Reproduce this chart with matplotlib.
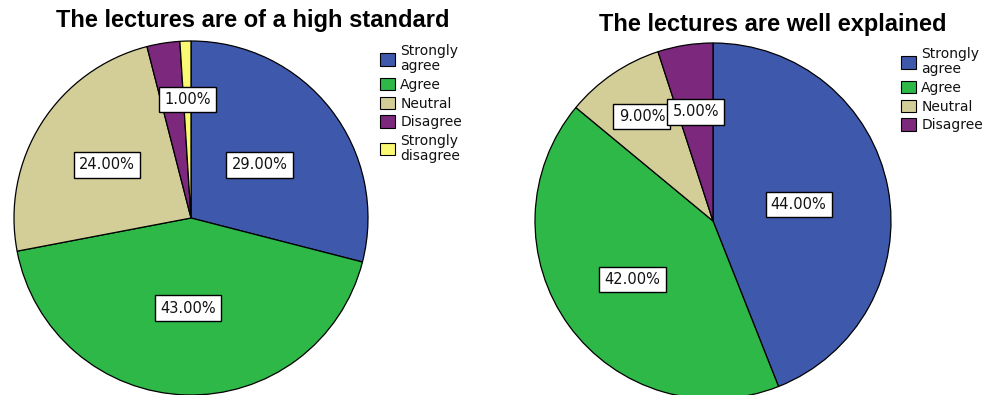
import numpy as np
import matplotlib

matplotlib.use("Agg")
matplotlib.rcParams["font.family"] = ["Liberation Sans", "DejaVu Sans"]

import matplotlib.pyplot as plt
from matplotlib.patches import Patch

# response shares, in percent
left_labels = ["Strongly\nagree", "Agree", "Neutral", "Disagree", "Strongly\ndisagree"]
left_values = [29, 43, 24, 3, 1]
left_shown = [True, True, True, False, True]
left_dist = [0.49, 0.51, 0.56, 0.6, 0.67]

right_labels = ["Strongly\nagree", "Agree", "Neutral", "Disagree"]
right_values = [44, 42, 9, 5]
right_shown = [True, True, True, True]
right_dist = [0.49, 0.56, 0.71, 0.62]

COLORS = ["#3E58AC", "#2EB848", "#D3CE97", "#7C287D", "#FBF873"]

W, H = 985, 395


def px_axes(fig, cx, cy, r):
    # axes whose unit circle lands at pixel centre (cx, cy) with radius r
    return fig.add_axes([(cx - r) / W, (H - cy - r) / H, 2 * r / W, 2 * r / H])


def draw_pie(ax, values, shown, dists, title, title_xy):
    colors = COLORS[: len(values)]
    wedges, _ = ax.pie(
        values,
        colors=colors,
        startangle=90,
        counterclock=False,
        radius=1.0,
        wedgeprops=dict(edgecolor="black", linewidth=0.9),
    )
    total = float(sum(values))
    for w, v, s, d in zip(wedges, values, shown, dists):
        if not s:
            continue
        mid = np.deg2rad((w.theta1 + w.theta2) / 2)
        ax.text(
            d * np.cos(mid),
            d * np.sin(mid),
            f"{100 * v / total:.2f}%",
            ha="center",
            va="center",
            fontsize=10.5,
            family="DejaVu Sans",
            color="#111111",
            bbox=dict(boxstyle="square,pad=0.36", facecolor="white", edgecolor="black", linewidth=1.0),
        )
    ax.set_xlim(-1, 1)
    ax.set_ylim(-1, 1)
    ax.set_aspect("auto")
    ax.axis("off")
    ax.figure.text(title_xy[0] / W, 1 - title_xy[1] / H, title, ha="center", va="center",
                   fontsize=17, fontweight="bold")
    return wedges


def draw_legend(fig, labels, x, y):
    handles = [Patch(facecolor=c, edgecolor="black", linewidth=0.8) for c in COLORS[: len(labels)]]
    leg = fig.legend(
        handles,
        labels,
        loc="upper left",
        bbox_to_anchor=(x / W, 1 - y / H),
        frameon=False,
        prop=dict(family="DejaVu Sans", size=10),
        handlelength=1.1,
        handleheight=1.0,
        handletextpad=0.35,
        labelspacing=0.34,
        borderpad=0,
        borderaxespad=0,
    )
    for t in leg.get_texts():
        t.set_linespacing(1.1)
        t.set_color("#111111")
    return leg


fig = plt.figure(figsize=(W / 100, H / 100), dpi=100)
fig.patch.set_facecolor("white")

ax1 = px_axes(fig, 191, 218, 177)
draw_pie(ax1, left_values, left_shown, left_dist, "The lectures are of a high standard", (253, 20))
draw_legend(fig, left_labels, 380, 44)

ax2 = px_axes(fig, 713, 221, 178)
draw_pie(ax2, right_values, right_shown, right_dist, "The lectures are well explained", (773, 25))
draw_legend(fig, right_labels, 901, 47)

fig.savefig("out.png", dpi=100)
